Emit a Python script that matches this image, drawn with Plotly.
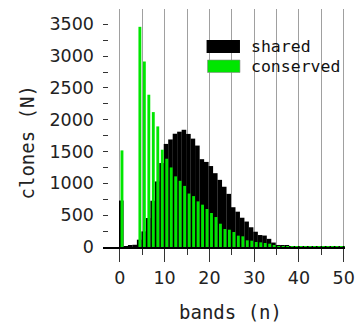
import plotly.graph_objects as go

# ---- data ----
bands = list(range(0, 51))
shared = [730, 15, 22, 35, 115, 245, 455, 727, 1030, 1319,
          1620, 1690, 1780, 1812, 1842, 1777, 1703, 1594, 1380, 1337,
          1272, 1160, 1055, 947, 835, 625, 555, 460, 400, 310,
          240, 188, 180, 128, 70, 32, 25, 18, 15, 12,
          10, 10, 8, 14, 10, 12, 6, 8, 5, 4, 3]
conserved = [1518, 0, 0, 0, 3460, 2915, 2393, 2120, 1895, 1529,
             1387, 1250, 1110, 1040, 960, 840, 800, 717, 665, 597,
             534, 471, 366, 283, 272, 236, 178, 168, 105, 99,
             79, 73, 63, 52, 26, 15, 8, 5, 4, 3,
             3, 2, 2, 2, 2, 2, 1, 1, 1, 1, 1]
series_names = ["shared", "conserved"]
x_ticks = [0, 10, 20, 30, 40, 50]
y_ticks = [0, 500, 1000, 1500, 2000, 2500, 3000, 3500]
x_title = "bands (n)"
y_title = "clones (N)"

W, H = 364, 323
L, R, T, B = 103, 11, 9, 76
PW, PH = W - L - R, H - T - B

def px(xp):
    return (xp - L) / PW

def py(yp):
    return (H - B - yp) / PH

GREEN = "#00e600"
MONO = "DejaVu Sans Mono"

fig = go.Figure()
fig.add_trace(go.Bar(x=bands, y=shared, name=series_names[0], width=1.03, offset=-0.2,
                     marker=dict(color="black", line=dict(width=0)), showlegend=False))
fig.add_trace(go.Bar(x=bands, y=conserved, name=series_names[1], width=0.64, offset=0.15,
                     marker=dict(color=GREEN, line=dict(width=0)), showlegend=False))

fig.update_layout(
    width=W, height=H, margin=dict(l=L, r=R, t=T, b=B),
    barmode="overlay", plot_bgcolor="white", paper_bgcolor="white",
    font=dict(family="DejaVu Sans", size=17, color="#222"),
    xaxis=dict(range=[-3.77, 50.3], tickvals=x_ticks, ticks="outside", ticklen=13,
               tickwidth=1.3, tickcolor="#333", showgrid=True, gridcolor="#a0a0a0", gridwidth=1.2,
               showline=True, linecolor="black", linewidth=1.5, zeroline=False,
               minor=dict(dtick=5, tick0=0, ticks="outside", ticklen=6, tickwidth=1.3,
                          tickcolor="#333", showgrid=True, gridcolor="#a0a0a0", gridwidth=1.2),
               ticklabelstandoff=1, tickfont=dict(size=17.5)),
    yaxis=dict(range=[0, 3740], tickvals=y_ticks, ticks="inside", ticklen=5,
               tickwidth=1.3, tickcolor="#333", showgrid=False, showline=False, zeroline=False,
               minor=dict(dtick=250, tick0=0, ticks="inside", ticklen=5, tickwidth=1.3, tickcolor="#333"),
               ticklabelstandoff=8, tickfont=dict(size=17.5)),
)

# axis titles
fig.add_annotation(text=x_title, x=px(235), y=py(312), xref="paper", yref="paper",
                   showarrow=False, font=dict(family=MONO, size=19, color="#222"),
                   xanchor="center", yanchor="middle")
fig.add_annotation(text=y_title, x=px(25), y=py(142), xref="paper", yref="paper",
                   showarrow=False, textangle=-90, font=dict(family=MONO, size=19, color="#222"),
                   xanchor="center", yanchor="middle")

# legend drawn as swatches + labels
fig.add_shape(type="rect", xref="paper", yref="paper", x0=px(210), x1=px(244.5),
              y0=py(53), y1=py(40), fillcolor="black", line=dict(width=0))
fig.add_shape(type="rect", xref="paper", yref="paper", x0=px(211), x1=px(244.5),
              y0=py(72.5), y1=py(60), fillcolor=GREEN, line=dict(width=0.6, color="#888"))
fig.add_annotation(text=series_names[0], x=px(254), y=py(46.5), xref="paper", yref="paper",
                   showarrow=False, xanchor="left", yanchor="middle",
                   font=dict(family=MONO, size=16.5, color="#111"))
fig.add_annotation(text=series_names[1], x=px(254), y=py(66), xref="paper", yref="paper",
                   showarrow=False, xanchor="left", yanchor="middle",
                   font=dict(family=MONO, size=16.5, color="#111"))

fig.write_html("out.html", config={"displayModeBar": False},
               post_script="document.body.style.margin='0';document.body.style.overflow='hidden';")
